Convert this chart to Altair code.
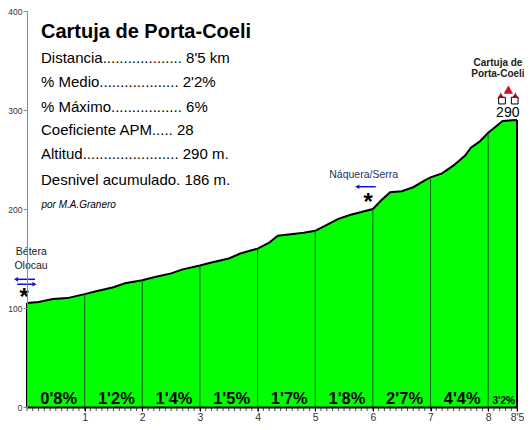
import altair as alt
import pandas as pd

FONT = "Liberation Sans"

# ---- profile data (km, elevation m) ----
km = [0, 0.2, 0.45, 0.7, 0.85, 1.0, 1.2, 1.5, 1.7, 2.0, 2.2, 2.5, 2.7, 3.0, 3.2, 3.5, 3.7,
      4.0, 4.2, 4.35, 4.5, 4.8, 5.0, 5.2, 5.4, 5.6, 5.8, 6.0, 6.15, 6.3, 6.5, 6.7, 6.9,
      7.0, 7.2, 7.4, 7.6, 7.7, 7.85, 8.0, 8.15, 8.25, 8.5]
elev = [105, 106, 109, 110, 112, 114, 117, 121, 125, 128, 131, 135, 139, 143, 146, 150, 155,
        160, 166, 173, 174, 176, 178, 184, 190, 194, 197, 200, 209, 217, 218, 222, 229,
        232, 236, 244, 254, 262, 268, 277, 284, 289, 290]

# km dividers
div_km = [1, 2, 3, 4, 5, 6, 7, 8]
edge_km = [0, 8.5]

# gradient per km
grad_text = ["0'8%", "1'2%", "1'4%", "1'5%", "1'7%", "1'8%", "2'7%", "4'4%"]
grad_x = [0.55, 1.55, 2.55, 3.55, 4.55, 5.55, 6.55, 7.55]
last_grad_text = ["3'2%"]
last_grad_x = [8.27]

# axis ticks / labels
x_major_ticks = [1, 2, 3, 4, 5, 6, 7, 8, 8.5]
x_minor_ticks = [round(i / 10, 1) for i in range(0, 86)]
y_ticks = [0, 100, 200, 300, 400]

# info box
title_text = ["Cartuja de Porta-Coeli"]
info_lines = [
    "Distancia................... 8'5 km",
    "% Medio................... 2'2%",
    "% Máximo................. 6%",
    "Coeficiente APM.....  28",
    "Altitud.......................  290 m.",
    "Desnivel acumulado. 186 m.",
]
info_y = [347.5, 323.2, 297.9, 274.7, 250.5, 224.2]
author = ["por M.A.Granero"]

# place annotations
start_names = ["Bétera", "Olocau"]
start_names_y = [153.5, 139.4]
summit_names = ["Cartuja de", "Porta-Coeli"]
summit_names_y = [344.4, 333.6]
summit_alt = ["290"]
mid_name = ["Náquera/Serra"]

prof = pd.DataFrame({"km": km, "elev": elev})
lookup = dict(zip(km, elev))

xs = alt.Scale(domain=[0, 8.5], nice=False, zero=False)
ys = alt.Scale(domain=[0, 400], nice=False)

area = alt.Chart(prof).mark_area(
    color="#00ff00", opacity=1, line={"color": "black", "strokeWidth": 2}, clip=False
).encode(
    x=alt.X("km:Q", scale=xs, axis=alt.Axis(
        values=x_major_ticks, labelExpr="datum.value == 8.5 ? \"8'5\" : datum.label",
        format="d", labelOverlap=False, labelFlush=False,
        labelBound=False, title=None, grid=False, domainColor="black", domainWidth=2,
        tickColor="black", tickSize=4, tickWidth=1, labelFontSize=10.5, labelColor="#333",
        labelFont=FONT, labelPadding=1, zindex=2)),
    y=alt.Y("elev:Q", scale=ys, axis=alt.Axis(
        values=y_ticks, title=None, grid=False, domainColor="#888", tickColor="#888",
        tickSize=4, labelFontSize=8.5, labelColor="#333", labelFont=FONT, labelPadding=1,
        zindex=2)),
)

minor_df = pd.DataFrame({"km": x_minor_ticks, "base": [0] * len(x_minor_ticks)})
minor = alt.Chart(minor_df).mark_tick(orient="vertical", color="black", size=4,
                                      thickness=1, yOffset=2).encode(
    x=alt.X("km:Q", scale=xs), y=alt.Y("base:Q", scale=ys))

div_df = pd.DataFrame({"km": div_km, "top": [lookup[k] for k in div_km], "base": [0] * len(div_km)})
dividers = alt.Chart(div_df).mark_rule(color="#1e5a1e", strokeWidth=1).encode(
    x=alt.X("km:Q", scale=xs), y=alt.Y("base:Q", scale=ys), y2="top:Q")

edge_df = pd.DataFrame({"km": edge_km, "top": [lookup[k] for k in edge_km], "base": [0, 0]})
edges = alt.Chart(edge_df).mark_rule(color="black", strokeWidth=2).encode(
    x=alt.X("km:Q", scale=xs), y=alt.Y("base:Q", scale=ys), y2="top:Q")

def text_layer(texts, xv, yv, size, weight="normal", style="normal", align="left",
               color="black", baseline="alphabetic"):
    df = pd.DataFrame({"t": texts, "x": xv, "y": yv})
    return alt.Chart(df).mark_text(
        font=FONT, fontSize=size, fontWeight=weight, fontStyle=style, align=align,
        baseline=baseline, color=color, clip=False
    ).encode(x=alt.X("x:Q", scale=xs), y=alt.Y("y:Q", scale=ys), text="t:N")

grad = text_layer(grad_text, grad_x, [3] * len(grad_text), 16.5, weight="bold", align="center")
grad_last = text_layer(last_grad_text, last_grad_x, [3], 10, weight="bold", align="center")

title = text_layer(title_text, [0.243], [372.7], 20, weight="bold")
info = text_layer(info_lines, [0.243] * len(info_lines), info_y, 15)
auth = text_layer(author, [0.25], [201], 10, style="italic")

start_lbl = text_layer(start_names, [0.074, 0.07], start_names_y, 10.5, align="center", color="#222")
summit_lbl = text_layer(summit_names, [8.17, 8.17], summit_names_y, 10, weight="bold", align="center", color="#222")
summit_num = text_layer(summit_alt, [8.34], [293], 14, align="center")
mid_lbl = text_layer(mid_name, [5.84], [231], 10.5, align="center", color="#223366")

stars = text_layer(["*", "*"], [-0.05, 5.92], [103, 199], 24, weight="bold", align="center")

# arrows (blue)
arr_df = pd.DataFrame({"x1": [-0.2, -0.17, 5.72], "x2": [0.14, 0.14, 6.05],
                       "y": [129, 124, 222.5]})
arr_lines = alt.Chart(arr_df).mark_rule(color="#1010e0", strokeWidth=1.5).encode(
    x=alt.X("x1:Q", scale=xs), x2="x2:Q", y=alt.Y("y:Q", scale=ys))
head_df = pd.DataFrame({"x": [-0.19, 0.13, 5.73], "y": [129, 124, 222.5],
                        "shape": ["triangle-left", "triangle-right", "triangle-left"]})
arr_heads = alt.Chart(head_df).mark_point(filled=True, color="#1010e0", size=22, opacity=1).encode(
    x=alt.X("x:Q", scale=xs), y=alt.Y("y:Q", scale=ys),
    shape=alt.Shape("shape:N", scale=None))

# summit icon
roof_df = pd.DataFrame({"x": [8.35, 8.22, 8.47], "s": [90, 50, 50], "y": [320.5, 314.5, 314.5]})
roofs = alt.Chart(roof_df).mark_point(shape="triangle-up", filled=True, color="#cc1122",
                                     opacity=1).encode(
    x=alt.X("x:Q", scale=xs), y=alt.Y("y:Q", scale=ys), size=alt.Size("s:Q", scale=None))
box_df = pd.DataFrame({"x": [8.24, 8.46], "y": [309.5, 309.5]})
boxes = alt.Chart(box_df).mark_square(fill="white", stroke="black", strokeWidth=1,
                                      size=45, opacity=1).encode(
    x=alt.X("x:Q", scale=xs), y=alt.Y("y:Q", scale=ys))

chart = alt.layer(
    area, minor, dividers, edges, grad, grad_last, title, info, auth, start_lbl, summit_lbl,
    summit_num, mid_lbl, stars, arr_lines, arr_heads, roofs, boxes
).properties(
    width=490, height=396,
    autosize=alt.AutoSizeParams(type="none"),
    padding={"left": 19, "top": 3, "right": 7, "bottom": 15},
    background="white",
).configure_view(stroke=None)

chart.save("out.html", embed_options={"renderer": "svg", "actions": False})
